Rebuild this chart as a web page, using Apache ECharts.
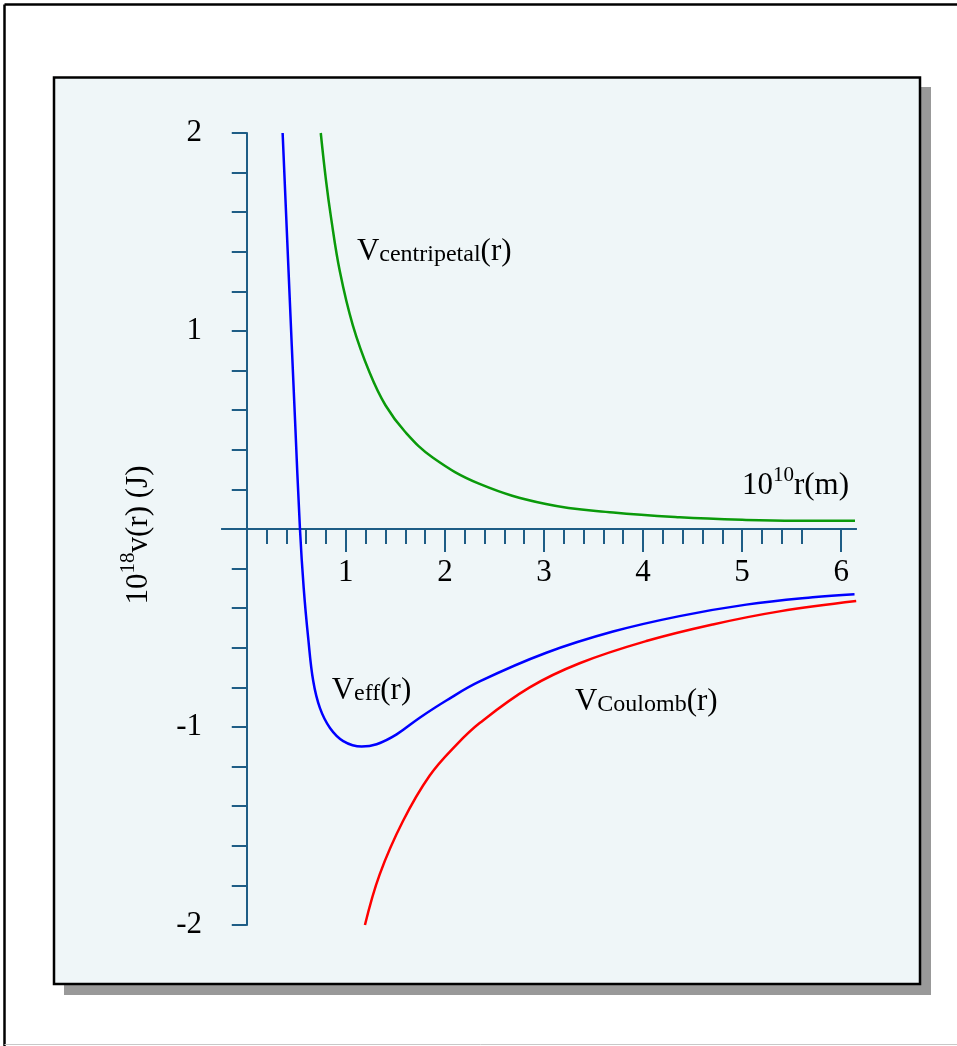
<!DOCTYPE html>
<html><head><meta charset="utf-8">
<script src="https://cdn.jsdelivr.net/npm/echarts@6/dist/echarts.min.js"></script>
<style>html,body{margin:0;padding:0;background:#fff;}#c{width:957px;height:1046px;}</style>
</head><body><div id="c"></div>
<script>
// ---- data (r in 1e-10 m, V in 1e-18 J) ----
const centripetalR = [0.747, 0.80, 0.85, 0.94, 1.07, 1.24, 1.40, 1.60, 1.88, 2.35, 3.02, 3.70, 4.37, 5.04, 5.55, 6.14];
const centripetalV = [2.0, 1.76, 1.575, 1.30, 1.03, 0.79, 0.625, 0.49, 0.36, 0.228, 0.126, 0.083, 0.059, 0.046, 0.042, 0.042];
const effR = [0.362, 0.422, 0.487, 0.537, 0.575, 0.620, 0.671, 0.739, 0.840, 0.974, 1.160, 1.311, 1.513, 1.746, 2.015, 2.351, 3.024, 3.697, 4.369, 5.042, 5.714, 6.135];
const effV = [2.0, 1.30, 0.554, 0.0, -0.30, -0.55, -0.768, -0.905, -1.005, -1.071, -1.099, -1.087, -1.037, -0.953, -0.866, -0.770, -0.625, -0.518, -0.440, -0.382, -0.345, -0.330];
const coulombR = [1.193, 1.342, 1.577, 1.847, 2.116, 2.351, 2.856, 3.36, 4.033, 4.705, 5.378, 6.152];
const coulombV = [-2.0, -1.744, -1.475, -1.245, -1.09, -0.98, -0.80, -0.678, -0.566, -0.482, -0.416, -0.364];

const xMajorTicks = [1, 2, 3, 4, 5, 6];
const xMinorTicks = [0.2, 0.4, 0.6, 0.8, 1.2, 1.4, 1.6, 1.8, 2.2, 2.4, 2.6, 2.8, 3.2, 3.4, 3.6, 3.8, 4.2, 4.4, 4.6, 4.8, 5.2, 5.4, 5.6];
const yLabelValues = [-2, -1, 1, 2];

const seriesNames = ['V_centripetal', 'V_eff', 'V_Coulomb'];
const subscripts = ['centripetal', 'eff', 'Coulomb'];

// ---- styling ----
const FONT = 'Liberation Serif';
const AXIS = '#1e5d86';
const rich = {
  b: { fontFamily: FONT, fontSize: 31, lineHeight: 36, verticalAlign: 'bottom', color: '#000' },
  s: { fontFamily: FONT, fontSize: 24, lineHeight: 26, verticalAlign: 'bottom', color: '#000' },
  s2: { fontFamily: FONT, fontSize: 24, lineHeight: 22, verticalAlign: 'bottom', color: '#000' },
  sup: { fontFamily: FONT, fontSize: 21, lineHeight: 21, verticalAlign: 'top', color: '#000' }
};

function pairs(xs, ys) { return xs.map((x, i) => [x, ys[i]]); }

function labelPoint(coord, text) {
  return {
    symbol: 'circle', symbolSize: 0, silent: true,
    itemStyle: { color: 'rgba(0,0,0,0)' },
    label: { show: true, position: 'right', distance: 0, formatter: text, rich: rich },
    data: [{ coord: coord }]
  };
}

function lineSeries(name, data, color, mp) {
  return {
    name: name, type: 'line', data: data, showSymbol: false, smooth: 0.4,
    lineStyle: { color: color, width: 2.5 }, itemStyle: { color: color },
    xAxisIndex: 0, yAxisIndex: 0, markPoint: mp, z: 3
  };
}

const chart = echarts.init(document.getElementById('c'), null, { renderer: 'canvas' });

const baseX = {
  type: 'value', min: -0.25, max: 6.15, position: 'bottom',
  axisLine: { show: true, onZero: true, onZeroAxisIndex: 0, lineStyle: { color: AXIS, width: 2 } },
  splitLine: { show: false }
};

chart.setOption({
  animation: false,
  backgroundColor: '#ffffff',
  graphic: {
    elements: [
      { type: 'line', z: -100, shape: { x1: 4.5, y1: 4.5, x2: 4.5, y2: 1046 }, style: { stroke: '#000', lineWidth: 2.5 } },
      { type: 'line', z: -100, shape: { x1: 4.5, y1: 4.5, x2: 957, y2: 4.5 }, style: { stroke: '#000', lineWidth: 2.5 } },
      { type: 'line', z: -100, shape: { x1: 4.5, y1: 1044.5, x2: 957, y2: 1044.5 }, style: { stroke: '#c8c8c8', lineWidth: 1 } },
      { type: 'rect', z: -99, shape: { x: 64, y: 87, width: 867, height: 908 }, style: { fill: '#999999' } },
      { type: 'rect', z: -98, shape: { x: 54, y: 77.5, width: 866, height: 906.5 }, style: { fill: '#eff6f8', stroke: '#000', lineWidth: 2.5 } }
    ]
  },
  grid: { left: 222, right: 101, top: 133, bottom: 121, containLabel: false },
  xAxis: [
    Object.assign({}, baseX, {
      axisTick: { show: true, customValues: xMajorTicks, length: 23, lineStyle: { color: AXIS, width: 2 } },
      axisLabel: { show: true, customValues: xMajorTicks, margin: -368, fontFamily: FONT, fontSize: 31, color: '#000' },
      name: '{b|10}{sup|10}{b|r(m)}', nameLocation: 'end', nameGap: -7,
      nameTextStyle: { align: 'right', verticalAlign: 'bottom', padding: [0, 0, 28, 0], rich: rich }
    }),
    Object.assign({}, baseX, {
      axisTick: { show: true, customValues: xMinorTicks, length: 15, lineStyle: { color: AXIS, width: 2 } },
      axisLabel: { show: false }
    })
  ],
  yAxis: [{
    type: 'value', min: -2, max: 2, interval: 0.2,
    axisLine: { show: true, onZero: true, onZeroAxisIndex: 0, lineStyle: { color: AXIS, width: 2 } },
    axisTick: { show: true, length: 15, lineStyle: { color: AXIS, width: 2 } },
    axisLabel: { show: true, customValues: yLabelValues, margin: 20, fontFamily: FONT, fontSize: 31, color: '#000' },
    splitLine: { show: false },
    name: '{b|10}{sup|18}{b|v(r) (J)}', nameLocation: 'middle', nameRotate: 90, nameGap: 68,
    nameTextStyle: { padding: [0, 12, 0, 0], rich: rich }
  }],
  series: [
    lineSeries(seriesNames[0], pairs(centripetalR, centripetalV), '#0a9a0a',
      labelPoint([1.112, 1.414], '{b|V}{s|' + subscripts[0] + '}{b|(r)}')),
    lineSeries(seriesNames[1], pairs(effR, effV), '#0000ff',
      labelPoint([0.857, -0.803], '{b|V}{s2|' + subscripts[1] + '}{b|(r)}')),
    lineSeries(seriesNames[2], pairs(coulombR, coulombV), '#ff0000',
      labelPoint([3.313, -0.859], '{b|V}{s2|' + subscripts[2] + '}{b|(r)}'))
  ]
});
</script></body></html>
